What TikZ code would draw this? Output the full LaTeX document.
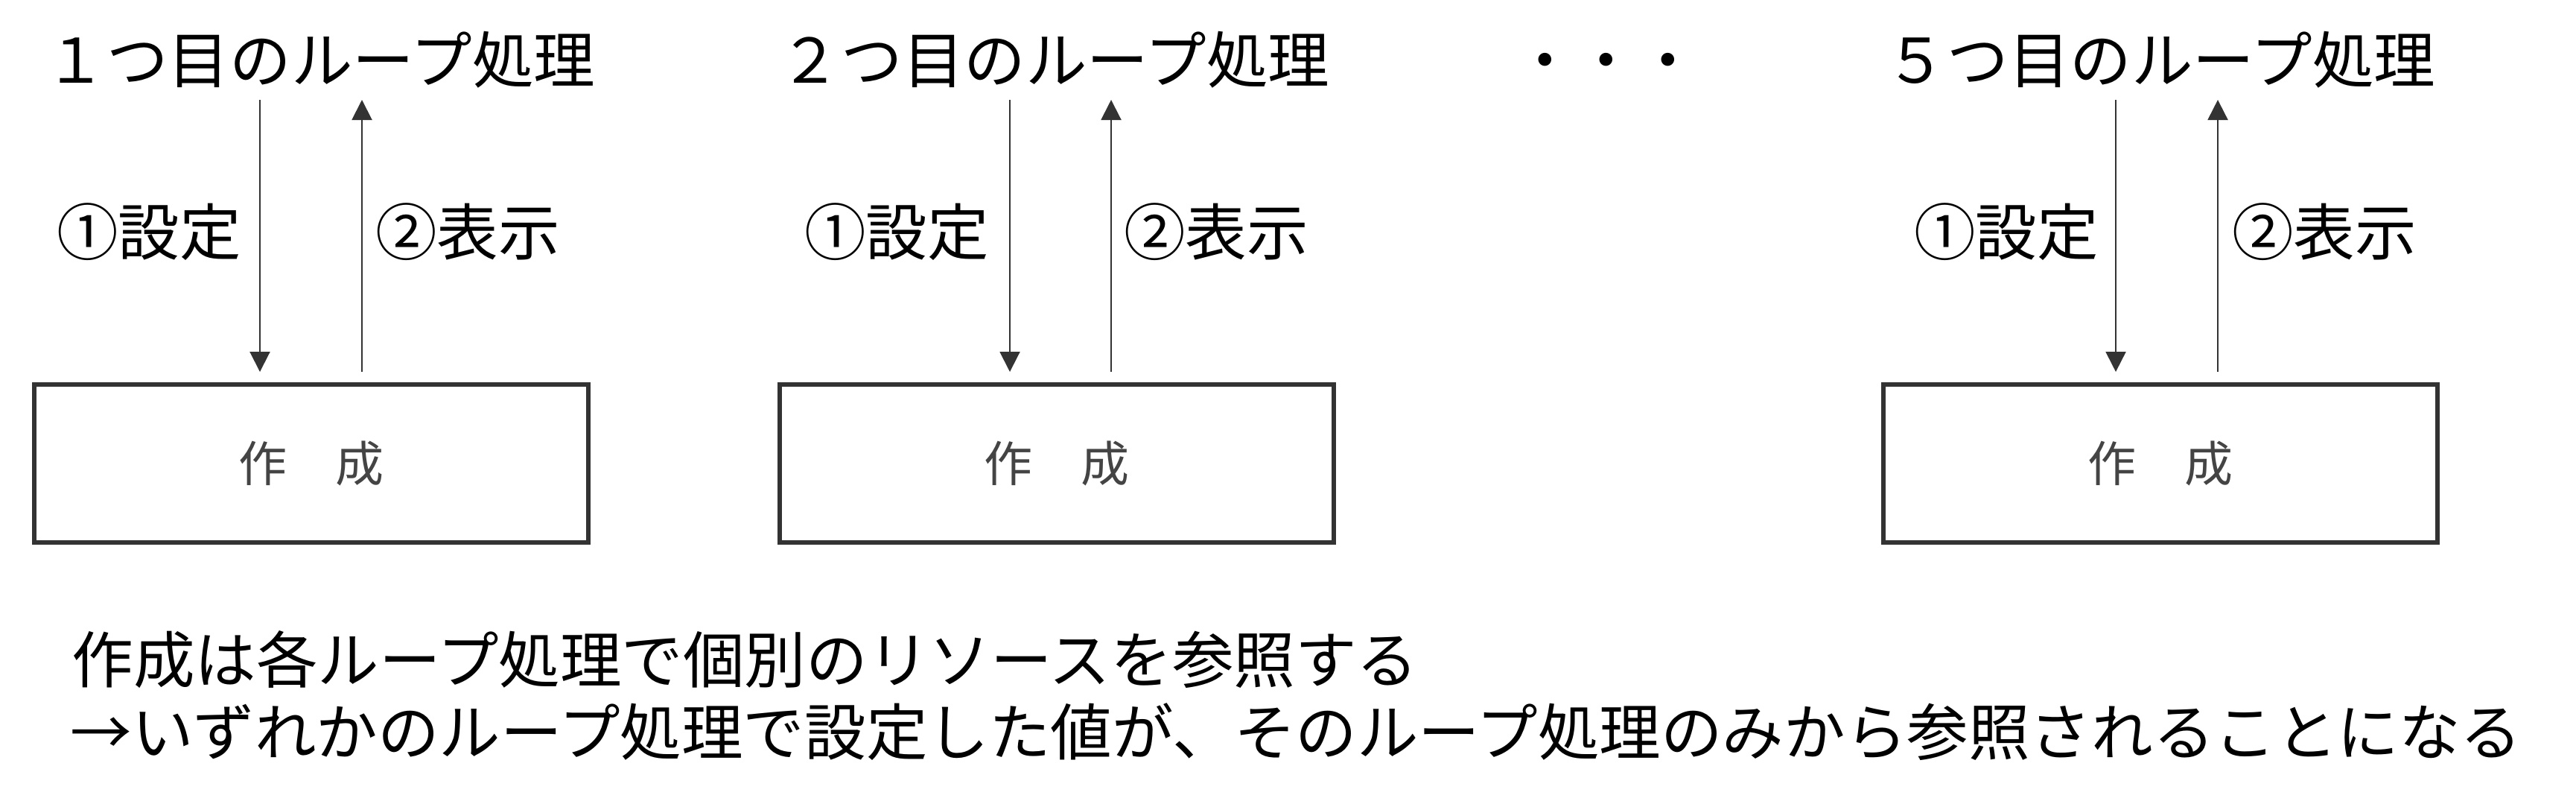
\documentclass[tikz,border=0pt]{standalone}
\usepackage{fontspec}
\setmainfont{Noto Sans CJK JP}
\usetikzlibrary{positioning,arrows.meta}
\definecolor{linegray}{HTML}{333333}
\definecolor{boxtext}{HTML}{444444}

\begin{document}
\begin{tikzpicture}[thick,
    looptitle/.style={anchor=base, inner sep=0pt, font=\fontsize{23.5}{28}\selectfont},
    steptext/.style={anchor=base, inner sep=0pt, font=\fontsize{23.5}{28}\selectfont},
    procbox/.style={draw=linegray, line width=1.7pt, minimum width=7.44cm, minimum height=2.12cm, inner sep=0pt, text=boxtext, font=\fontsize{18.5}{22}\selectfont},
    flow/.style={draw=linegray, line width=0.57pt, -{Triangle[length=0.27cm,width=0.27cm]}},
    note/.style={anchor=base west, inner sep=0pt, font=\fontsize{23.5}{28}\selectfont}]

    \useasboundingbox (0,0) rectangle (34.59,-10.82);

    \node[looptitle] (t1) at (4.30,-1.11) {１つ目のループ処理};
    \node[looptitle] (t2) at (14.16,-1.11) {２つ目のループ処理};
    \node[looptitle] (t5) at (29.01,-1.11) {５つ目のループ処理};

    \node[looptitle] (dots) at (21.57,-1.11) {・・・};

    \node[procbox] (box1) at (4.18,-6.22) {作　成};
    \node[procbox] (box2) at (14.19,-6.22) {作　成};
    \node[procbox] (box5) at (29.01,-6.22) {作　成};

    \coordinate (d1) at (3.49,-1.34);
    \coordinate (u1) at (4.86,-1.34);
    \coordinate (d2) at (13.56,-1.34);
    \coordinate (u2) at (14.92,-1.34);
    \coordinate (d5) at (28.41,-1.34);
    \coordinate (u5) at (29.78,-1.34);

    \draw[flow, shorten >=0.14cm] (d1) -- (d1 |- box1.north);
    \draw[flow, shorten <=0.14cm] (u1 |- box1.north) -- (u1);
    \draw[flow, shorten >=0.14cm] (d2) -- (d2 |- box2.north);
    \draw[flow, shorten <=0.14cm] (u2 |- box2.north) -- (u2);
    \draw[flow, shorten >=0.14cm] (d5) -- (d5 |- box5.north);
    \draw[flow, shorten <=0.14cm] (u5 |- box5.north) -- (u5);

    \node[steptext] (set1) at (2.00,-3.42) {①設定};
    \node[steptext] (show1) at (6.28,-3.42) {②表示};
    \node[steptext] (set2) at (12.04,-3.42) {①設定};
    \node[steptext] (show2) at (16.33,-3.42) {②表示};
    \node[steptext] (set5) at (26.94,-3.42) {①設定};
    \node[steptext] (show5) at (31.21,-3.42) {②表示};

    \node[note] (note1) at (0.95,-9.16) {作成は各ループ処理で個別のリソースを参照する};
    \node[note] (note2) at (0.93,-10.13) {→いずれかのループ処理で設定した値が、そのループ処理のみから参照されることになる};

\end{tikzpicture}
\end{document}
